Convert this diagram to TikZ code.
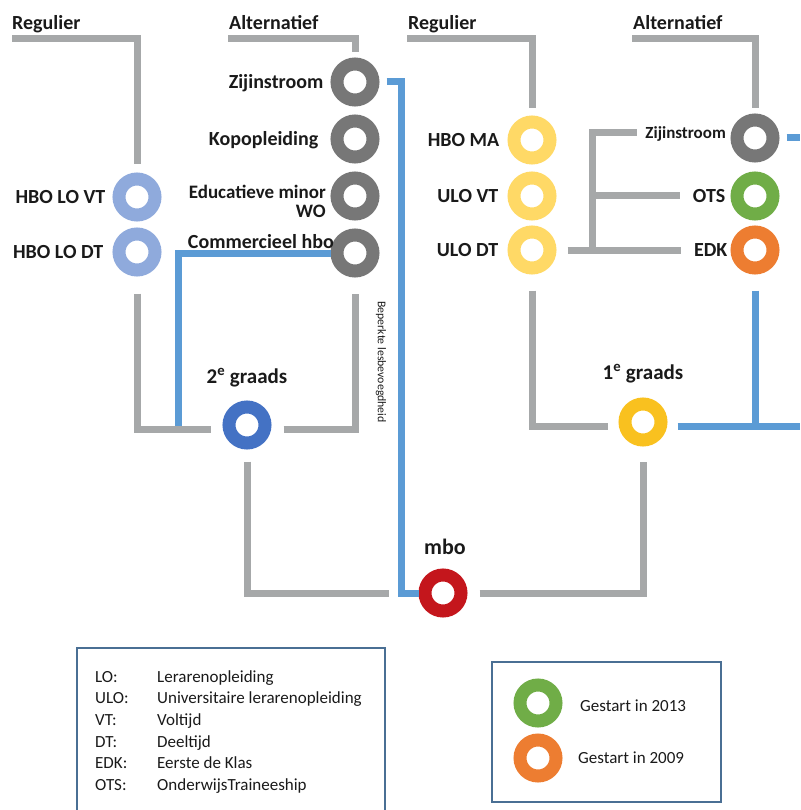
\documentclass[tikz,border=0pt]{standalone}
\usepackage{fontspec}
\setmainfont{Carlito}
\usepackage{tikz}
\usetikzlibrary{positioning,calc}

\definecolor{lijngrijs}{HTML}{A6A8A9}
\definecolor{lijnblauw}{HTML}{5B9BD5}
\definecolor{lichtblauw}{HTML}{8FAADC}
\definecolor{donkergrijs}{HTML}{777777}
\definecolor{tweedeblauw}{HTML}{4472C4}
\definecolor{mborood}{HTML}{C4161C}
\definecolor{lichtgeel}{HTML}{FFD966}
\definecolor{goud}{HTML}{F9C11F}
\definecolor{groen}{HTML}{70AD47}
\definecolor{oranje}{HTML}{ED7D31}
\definecolor{kader}{HTML}{4A6F94}
\definecolor{tekst}{HTML}{1A1A1A}

\begin{document}
\begin{tikzpicture}[
  x=1pt, y=-1pt,
  ring/.style={circle, draw=#1, line width=13pt, minimum size=36pt, inner sep=0pt},
  lab/.style={font=\fontsize{20}{20}\selectfont\bfseries, text=tekst, inner sep=0pt,
              text height=13pt, text depth=0pt},
  klab/.style={lab, font=\fontsize{17}{17}\selectfont\bfseries, text height=11pt},
  legtekst/.style={font=\fontsize{17}{21.6}\selectfont, text=tekst, inner sep=0pt},
  grijs/.style={draw=lijngrijs, line width=7pt},
  blauw/.style={draw=lijnblauw, line width=7pt},
  legkader/.style={draw=kader, line width=1.5pt}
]
  \useasboundingbox (0,0) rectangle (800,810);

  % stations 2e graads
  \node[ring=lichtblauw]  (hbovt)   at (137,197) {};
  \node[ring=lichtblauw]  (hbodt)   at (137,252) {};
  \node[ring=donkergrijs] (zijl)    at (355,82)  {};
  \node[ring=donkergrijs] (kop)     at (355,139) {};
  \node[ring=donkergrijs] (edumin)  at (355,196) {};
  \node[ring=donkergrijs] (commhbo) at (355,253) {};
  \node[ring=tweedeblauw] (graad2)  at (247,425) {};
  \node[ring=mborood]     (mbo)     at (443,593) {};
  % stations 1e graads
  \node[ring=lichtgeel]   (hboma)   at (532,140) {};
  \node[ring=lichtgeel]   (ulovt)   at (532,196) {};
  \node[ring=lichtgeel]   (ulodt)   at (532,250) {};
  \node[ring=donkergrijs] (zijr)    at (755,138) {};
  \node[ring=groen]       (ots)     at (755,196) {};
  \node[ring=oranje]      (edk)     at (755,250) {};
  \node[ring=goud]        (graad1)  at (643,422) {};

  % namen
  \node[lab, anchor=west] (regllab) at (12,23)  {Regulier};
  \node[lab, anchor=west] (altllab) at (229,23) {Alternatief};
  \node[lab, anchor=west] (regrlab) at (408,23) {Regulier};
  \node[lab, anchor=west] (altrlab) at (633,23) {Alternatief};
  \node[lab, left=7pt of hbovt] (hbovtlab) {HBO LO VT};
  \node[lab, left=9pt of hbodt] (hbodtlab) {HBO LO DT};
  \node[lab, left=7pt of zijl] (zijllab) {Zijinstroom};
  \node[lab, left=12pt of kop] (koplab) {Kopopleiding};
  \node[lab, align=right, anchor=north east, text height=, text depth=,
        font=\fontsize{19}{19}\selectfont\bfseries] (edulab) at (326,185) {Educatieve minor\\WO};
  \node[lab, anchor=east] (commlab) at (334,242) {Commercieel hbo};
  \node[lab, left=8pt of hboma] (hbomalab) {HBO MA};
  \node[lab, left=9pt of ulovt] (ulovtlab) {ULO VT};
  \node[lab, left=9pt of ulodt] (ulodtlab) {ULO DT};
  \node[klab, anchor=east] (zijrlab) at (726,133) {Zijinstroom};
  \node[lab, left=5pt of ots] (otslab) {OTS};
  \node[lab, left=3pt of edk] (edklab) {EDK};
  \node[lab, font=\fontsize{21}{21}\selectfont\bfseries] (graad2lab) at (247,377) {2\textsuperscript{e} graads};
  \node[lab, font=\fontsize{21}{21}\selectfont\bfseries] (graad1lab) at (643,373) {1\textsuperscript{e} graads};
  \node[lab, font=\fontsize{22}{22}\selectfont\bfseries] (mbolab) at (445,548) {mbo};
  \node[font=\fontsize{11.8}{12}\selectfont, text=tekst, rotate=-90, inner sep=0pt] (beperkt) at (381,362) {Beperkte lesbevoegdheid};

  % blauwe lijnen eerst, grijs er overheen
  \coordinate (aansluit2) at (178,429);
  \coordinate (rechtsonder) at (800,426);
  \coordinate (rechtsboven) at (800,135);
  \draw[blauw] ([xshift=7pt]zijl.east) -| ([xshift=-17pt]mbo.west) -- (mbo.west);
  \draw[blauw] (commhbo.west) -| (aansluit2);
  \draw[blauw] ([xshift=7pt]zijr.east) -- (zijr.east -| rechtsboven);
  \draw[blauw] ([xshift=10pt,yshift=-4pt]graad1.east) -- (rechtsonder);
  \draw[blauw] ([yshift=-16pt]edk.south) -- (edk.south |- rechtsonder);

  % grijze lijnen
  \coordinate (regl) at (12,39);
  \coordinate (altl) at (228,39);
  \coordinate (regr) at (407,39);
  \coordinate (altr) at (632,39);
  \coordinate (esplit) at (592,0);
  \draw[grijs] (regl) -| ([yshift=8pt]hbovt.north);
  \draw[grijs] (altl) -| ([yshift=5pt]zijl.north);
  \draw[grijs] ([yshift=-17pt]hbodt.south) |- ([xshift=-12pt,yshift=-4pt]graad2.west);
  \draw[grijs] ([xshift=12pt,yshift=-4pt]graad2.east) -| ([yshift=-16pt]commhbo.south);
  \draw[grijs] ([yshift=-12pt]graad2.south) |- ([xshift=-30pt]mbo.west);
  \draw[grijs] ([xshift=12pt]mbo.east) -| ([yshift=-15pt]graad1.south);
  \draw[grijs] ([yshift=-16pt]ulodt.south) |- ([xshift=-11pt,yshift=-4pt]graad1.west);
  \draw[grijs] (regr) -| ([yshift=7pt]hboma.north);
  \draw[grijs] (altr) -| ([yshift=5pt]zijr.north);
  % zijtakken naar alternatieve routes
  \draw[grijs] ([xshift=11pt]ulodt.east) -- ([xshift=-13pt]edklab.west);
  \draw[grijs] (ulodt.east -| esplit) |- ([xshift=-8pt]zijrlab.west);
  \draw[grijs] (otslab.west -| esplit) -- ([xshift=-13pt]otslab.west);

  % legenda afkortingen
  \draw[legkader] (77,648) rectangle (385,830);
  \node[legtekst, anchor=north west] (afk) at (95,667) {%
    \begin{tabular}{@{}p{62pt}@{}l@{}}
      LO:  & Lerarenopleiding\\
      ULO: & Universitaire lerarenopleiding\\
      VT:  & Voltijd\\
      DT:  & Deeltijd\\
      EDK: & Eerste de Klas\\
      OTS: & OnderwijsTraineeship
    \end{tabular}};

  % legenda startjaar
  \draw[legkader] (492,662) rectangle (721,802);
  \node[ring=groen]  (leg2013) at (538,703) {};
  \node[ring=oranje] (leg2009) at (538,758) {};
  \node[legtekst, anchor=west, text height=11pt, text depth=0pt] (tekst2013) at (580,706) {Gestart in 2013};
  \node[legtekst, anchor=west, text height=11pt, text depth=0pt] (tekst2009) at (578,758) {Gestart in 2009};
\end{tikzpicture}
\end{document}
